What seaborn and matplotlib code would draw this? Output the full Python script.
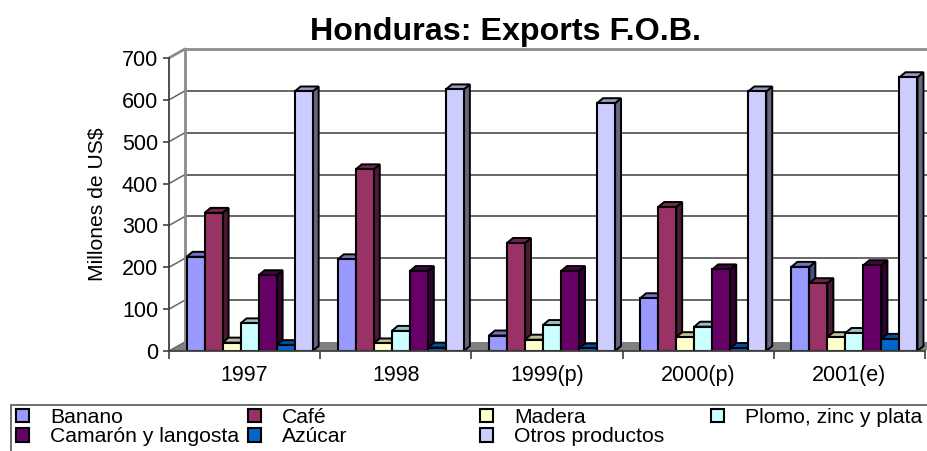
import matplotlib
matplotlib.use("Agg")
import matplotlib.pyplot as plt
from matplotlib.patches import Patch, Polygon, Rectangle
from matplotlib.colors import to_rgb
import pandas as pd
import seaborn as sns

years = ["1997", "1998", "1999(p)", "2000(p)", "2001(e)"]
banano = [225, 219, 37, 126, 201]
cafe = [330, 434, 258, 344, 162]
madera = [20, 18, 27, 33, 33]
plomo = [66, 48, 62, 58, 43]
camaron = [181, 191, 191, 195, 205]
azucar = [14, 8, 6, 7, 29]
otros = [620, 625, 592, 620, 654]

products = ["Banano", "Café", "Madera", "Plomo, zinc y plata",
            "Camarón y langosta", "Azúcar", "Otros productos"]
colors = ["#9999FF", "#993366", "#FFFFCC", "#CCFFFF", "#660066", "#0066CC", "#CCCCFF"]

W, H = 928, 451
# 3D look of the old Excel chart, in pixels
DX, DY = 16, 9
BAR_DX, BAR_DY = 6, 5
BAR_SHIFT = 5

rows = []
for name, vals in zip(products, [banano, cafe, madera, plomo, camaron, azucar, otros]):
    for y, v in zip(years, vals):
        rows.append({"year": y, "product": name, "value": v})
df = pd.DataFrame(rows)

sns.set_theme(style="white")
plt.rcParams["font.family"] = ["Liberation Sans", "DejaVu Sans"]
plt.rcParams["text.color"] = "black"
plt.rcParams["axes.labelcolor"] = "black"
plt.rcParams["xtick.labelcolor"] = "black"
plt.rcParams["ytick.labelcolor"] = "black"

fig = plt.figure(figsize=(W / 100, H / 100), dpi=100)
ax = fig.add_axes([169 / W, 1 - 351 / H, 756 / W, 293 / H])

sns.barplot(data=df, x="year", y="value", hue="product", hue_order=products,
            palette=colors, saturation=1, width=0.834, gap=0, order=years,
            edgecolor="black", linewidth=1.5, legend=False, ax=ax, zorder=5)
ax.set_xlim(-0.5, 4.5)
ax.set_ylim(0, 700)


def to_px(x, y):
    return ax.transData.transform((x, y))


def poly(points, color, z, edge="none", lw=0):
    # points are in pixels measured from the bottom left of the figure
    ax.add_patch(Polygon(points, closed=True, facecolor=color, edgecolor=edge, linewidth=lw,
                         transform=None, clip_on=False, zorder=z))


def shade(c, f):
    return tuple(v * f for v in to_rgb(c))


GRID = "#666666"
x0, y0 = to_px(-0.5, 0)
x1, y1 = to_px(4.5, 700)

# floor
poly([(x0, y0), (x1, y0), (x1 + DX, y0 + DY), (x0 + DX, y0 + DY)], "#808080", 1)

# back wall grid and diagonals
for tick in range(0, 800, 100):
    px, py = to_px(-0.5, tick)
    col = "#8c8c8c" if tick == 700 else GRID
    lw = 2 if tick == 700 else 1.4
    if tick > 0:
        ax.plot([px + DX, x1 + DX], [py + DY, py + DY], color=col, lw=lw, transform=None, clip_on=False, zorder=2)
    ax.plot([px, px + DX], [py, py + DY], color=col if tick == 700 else "#666666", lw=lw if tick == 700 else 1.1,
            transform=None, clip_on=False, zorder=2)
ax.plot([x0 + DX, x0 + DX], [y0 + DY, y1 + DY], color="#8c8c8c", lw=2, transform=None, clip_on=False, zorder=2)

# depth of the bars, taken from the bars seaborn drew
bars = sorted(ax.patches[:len(df)], key=lambda b: b.get_x())
shift = BAR_SHIFT / 151
for bar in bars:
    bar.set_x(bar.get_x() + shift)
    color = bar.get_facecolor()[:3]
    (bx0, by0) = to_px(bar.get_x(), 0)
    (bx1, by1) = to_px(bar.get_x() + bar.get_width(), bar.get_height())
    poly([(bx1, by0), (bx1 + BAR_DX, by0 + BAR_DY), (bx1 + BAR_DX, by1 + BAR_DY), (bx1, by1)],
         shade(color, 0.5), 4, "black", 1.4)
    poly([(bx0, by1), (bx1, by1), (bx1 + BAR_DX, by1 + BAR_DY), (bx0 + BAR_DX, by1 + BAR_DY)],
         shade(color, 0.75), 4, "black", 1.4)

for side in ["top", "right"]:
    ax.spines[side].set_visible(False)
for side in ["left", "bottom"]:
    ax.spines[side].set_color("#404040")
    ax.spines[side].set_linewidth(1.3)
    ax.spines[side].set_zorder(6)

ax.set_yticks(range(0, 800, 100))
ax.set_xticks([i - 0.5 for i in range(6)], labels=[""] * 6)
ax.set_xticks(range(5), labels=years, minor=True)
ax.tick_params(axis="x", which="major", length=5.5, width=1.2, color="#404040", bottom=True)
ax.tick_params(axis="x", which="minor", length=0, pad=10, labelsize=15.5)
ax.tick_params(axis="y", length=4.3, width=1.2, color="#404040", left=True, pad=3.6, labelsize=15.5)
ax.set_xlabel("")
ax.set_ylabel("Millones de US$", fontsize=15.2, labelpad=11, y=0.5)
fig.text(506 / W, 1 - 32 / H, "Honduras: Exports F.O.B.", fontsize=23.2, fontweight="bold",
         ha="center", va="center")

# legend frame runs off the picture on the right and bottom
fig.add_artist(Rectangle((11 / W, -5 / H), 930 / W, 1 - 405 / H + 5 / H, transform=fig.transFigure,
                         facecolor="white", edgecolor="#555555", linewidth=1.2))

columns = [[0, 4], [1, 5], [2, 6], [3]]
col_x = [16, 248, 480, 711]
for idx, cx in zip(columns, col_x):
    handles = [Patch(facecolor=colors[i], edgecolor="black", linewidth=1.5) for i in idx]
    leg = fig.legend(handles, [products[i] for i in idx], loc="upper left",
                     bbox_to_anchor=(cx / W, 1 - 408 / H), frameon=False, fontsize=15.2,
                     handlelength=0.6, handleheight=0.6, handletextpad=1.0,
                     labelspacing=0.02, borderpad=0, borderaxespad=0)

fig.savefig("out.png", dpi=100)
